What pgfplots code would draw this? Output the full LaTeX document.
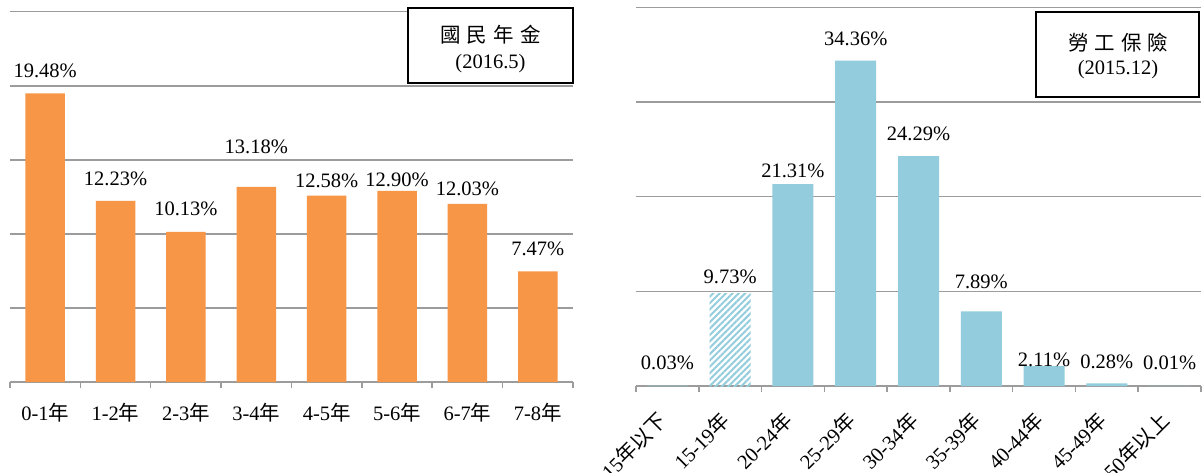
\documentclass[border=0pt]{standalone}
\usepackage{pgfplots}
\pgfplotsset{compat=1.18}
\usepackage{pgfplotstable}
\usetikzlibrary{patterns.meta}
\usepackage{fontspec}
\setmainfont{Liberation Serif}
\newfontfamily\cjk{Noto Sans CJK TC}
\definecolor{barorange}{HTML}{F79646}
\definecolor{barblue}{HTML}{93CDDD}
\definecolor{gridgray}{HTML}{9C9C9C}

\pgfplotstableread{
x y off
0 19.48 23
1 12.23 22
2 10.13 23
3 13.18 40
4 12.58 15
5 12.90 11
6 12.03 15
7 7.47 23
}\leftdata

\pgfplotstableread{
x y off
0 0.03 23
2 21.31 13
3 34.36 22
4 24.29 22
5 7.89 29
6 2.11 6
7 0.28 22
8 0.01 23
}\rightdata

\pgfplotstableread{
x y off
1 9.73 17
}\hatchdata

\newcommand{\lbl}{\fontsize{20.5}{24}\selectfont}

\pgfplotsset{
  mystyle/.style={
    scale only axis,
    clip=false,
    axis x line*=bottom,
    axis y line*=left,
    y axis line style={draw=none},
    x axis line style={draw=gridgray, line width=1.5pt},
    ymajorgrids,
    grid style={draw=gridgray, line width=1.5pt},
    ytick style={draw=none},
    yticklabels={},
    ymin=0,
    xtick style={draw=none},
    extra x tick labels={},
    extra x tick style={grid=none, xtick style={draw=gridgray, line width=1.5pt}, major tick length=6pt, tick align=outside},
    tick label style={font=\lbl},
    ybar, bar shift=0pt,
    nodes near coords={\pgfmathprintnumber[fixed,fixed zerofill,precision=2,assume math mode=true]{\pgfplotspointmeta}\%},
    visualization depends on={\thisrow{off} \as \off},
    nodes near coords style={anchor=center, yshift=\off pt, font=\lbl, inner sep=0pt, text=black},
  }
}

\begin{document}
\begin{tikzpicture}
\path[use as bounding box, fill=white] (0,0) rectangle (1204pt,472pt);

\begin{axis}[mystyle,
  at={(10pt,90pt)}, anchor=south west,
  width=563pt, height=370.3pt,
  xmin=-0.5, xmax=7.5, ymax=25,
  ytick={0,5,...,25},
  xtick={0,...,7},
  xticklabels={0-1{\cjk 年},1-2{\cjk 年},2-3{\cjk 年},3-4{\cjk 年},4-5{\cjk 年},5-6{\cjk 年},6-7{\cjk 年},7-8{\cjk 年}},
  xticklabel style={anchor=center, yshift=-26pt},
  extra x ticks={-0.5,0.5,...,7.5},
  bar width=0.56,
]
\addplot[fill=barorange, draw=none] table[x=x, y=y] {\leftdata};
\end{axis}

\begin{axis}[mystyle,
  at={(636pt,86pt)}, anchor=south west,
  width=565pt, height=378.7pt,
  xmin=-0.5, xmax=8.5, ymax=40,
  ytick={0,10,...,40},
  xtick={0,...,8},
  xticklabels={15{\cjk 年以下},15-19{\cjk 年},20-24{\cjk 年},25-29{\cjk 年},30-34{\cjk 年},35-39{\cjk 年},40-44{\cjk 年},45-49{\cjk 年},50{\cjk 年以上}},
  xticklabel style={yshift=-24pt, xshift=-2pt, rotate=45, anchor=east},
  extra x ticks={-0.5,0.5,...,8.5},
  bar width=0.653,
]
\addplot[fill=barblue, draw=none] table[x=x, y=y] {\rightdata};
\addplot[draw=none, pattern={Lines[angle=45, distance=4.5pt, line width=2pt]}, pattern color=barblue] table[x=x, y=y] {\hatchdata};
\end{axis}

\draw[line width=2.2pt, fill=white] (408pt,389pt) rectangle (573pt,464pt);
\node at (490.5pt,437pt) {\lbl\cjk 國\kern6pt 民\kern6pt 年\kern6pt 金};
\node at (490.5pt,408pt) {\lbl (2016.5)};

\draw[line width=2.2pt, fill=white] (1036pt,375.3pt) rectangle (1199pt,460.3pt);
\node at (1118pt,429.5pt) {\lbl\cjk 勞\kern6pt 工\kern6pt 保\kern6pt 險};
\node at (1118pt,402pt) {\lbl (2015.12)};
\end{tikzpicture}
\end{document}
